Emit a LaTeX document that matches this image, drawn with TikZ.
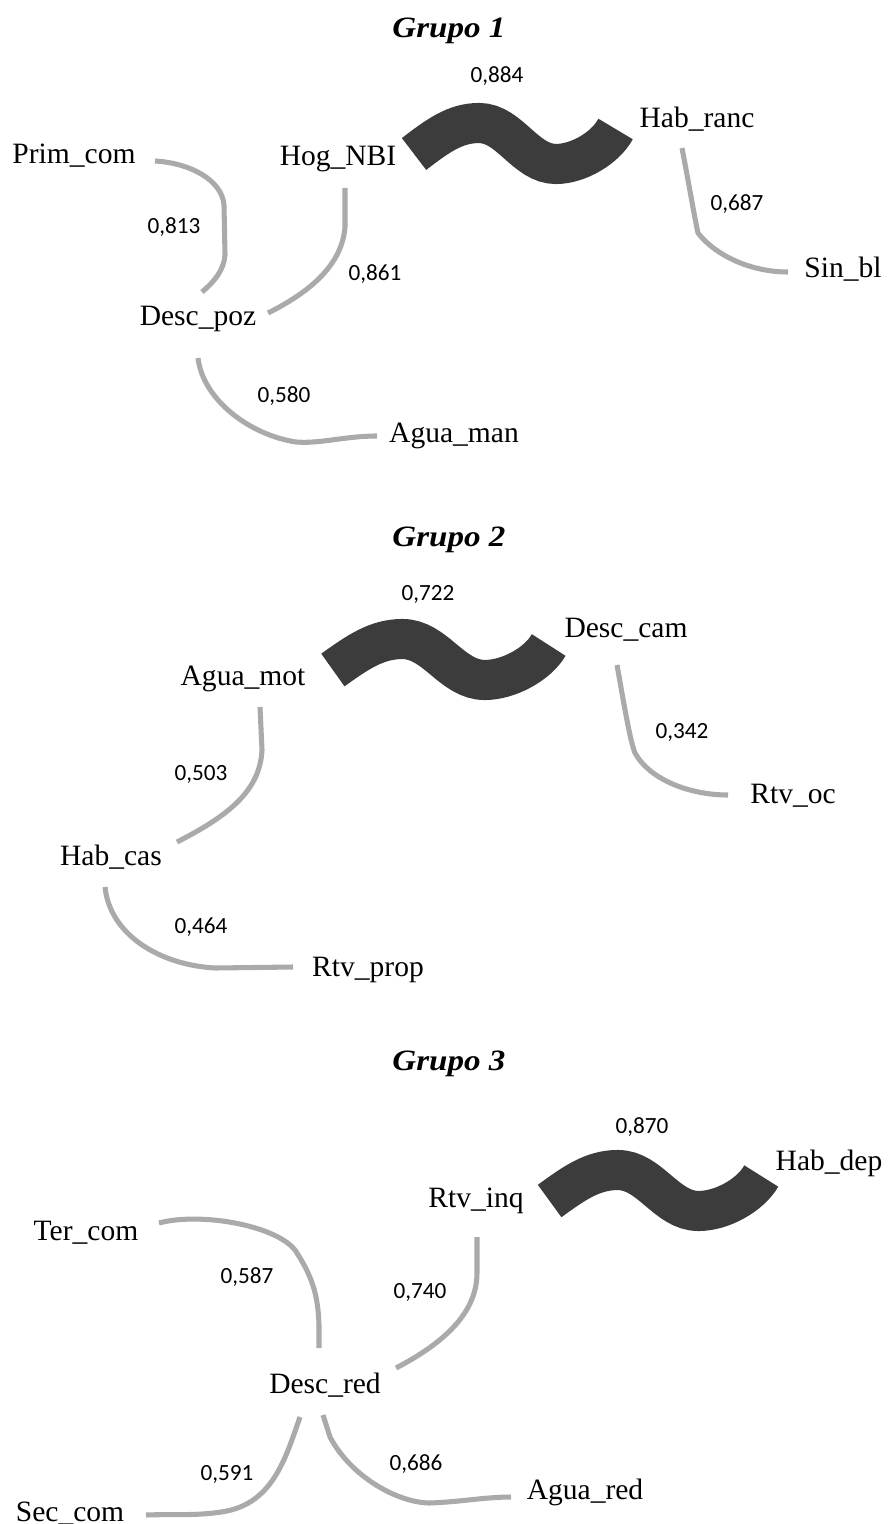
\documentclass[tikz,border=0pt]{standalone}
\usepackage{fontspec}
\setmainfont{Liberation Serif}
\newfontfamily\numfont{Carlito}
\newfontfamily\ttlfont[FakeStretch=1.12]{Liberation Serif}
\usetikzlibrary{calc}
\definecolor{edgegray}{RGB}{170,170,170}
\definecolor{wavegray}{RGB}{60,60,60}
\begin{document}
\begin{tikzpicture}[x=0.025cm,y=-0.025cm,
  lbl/.style={font=\fontsize{21}{21}\selectfont, inner sep=0pt, anchor=base},
  num/.style={font=\numfont\fontsize{16.5}{16.5}\selectfont, inner sep=0pt, anchor=base},
  ttl/.style={font=\ttlfont\bfseries\itshape\fontsize{21}{21}\selectfont, inner sep=0pt, anchor=base},
  link/.style={draw=edgegray, line width=3.6pt, line join=round},
  wave/.style={draw=wavegray, line width=28.5pt}]
\fill[white] (0,0) rectangle (889,1524);
\useasboundingbox (0,0) rectangle (889,1524);

% ---------------- Grupo 1 ----------------
\node[ttl] (t1) at (449,38) {Grupo 1};
\node[num] (n884) at (497,83) {0,884};
\node[lbl] (prim) at (74,163) {Prim\_com};
\node[lbl] (hog) at (338,165) {Hog\_NBI};
\node[lbl] (habranc) at (697,128) {Hab\_ranc};
\node[num] (n813) at (174,233) {0,813};
\node[num] (n861) at (375,280) {0,861};
\node[num] (n687) at (737,210) {0,687};
\node[lbl] (sinbl) at (843,277) {Sin\_bl};
\node[lbl] (descpoz) at (198,325) {Desc\_poz};
\node[num] (n580) at (284,402) {0,580};
\node[lbl] (aguaman) at (454,442) {Agua\_man};

\draw[link] ($(prim.base)+(81,-2)$) .. controls (190,163) and (222,180) .. (224,205)
  -- (225,255) .. controls (224,270) and (214,282) .. ($(descpoz.base)+(4,-33)$);
\draw[link] ($(hog.base)+(7,23)$) -- (345,227) .. controls (342,265) and (310,292) .. ($(descpoz.base)+(70,-12)$);
\draw[link] ($(descpoz.base)+(0,33)$) .. controls (203,400) and (250,435) .. (296,442)
  .. controls (320,444) and (345,436) .. ($(aguaman.base)+(-77,-6)$);
\draw[link] ($(habranc.base)+(-15,20)$) .. controls (690,190) and (695,220) .. (698,233)
  .. controls (715,255) and (750,272) .. ($(sinbl.base)+(-55,-5)$);
\begin{scope}[shift={(402,137)}, xscale=0.962]
  \coordinate (w1a) at (12.5,17);
  \coordinate (w1b) at (222,-8);
  \draw[wave] (w1a) .. controls (36.7,-0.8) and (55,-14) .. (80,-14)
    .. controls (112,-14) and (128,27) .. (160,27)
    .. controls (183,27) and (211.3,11.2) .. (w1b);
\end{scope}

% ---------------- Grupo 2 ----------------
\node[ttl] (t2) at (449,546) {Grupo 2};
\node[num] (n722) at (428,600) {0,722};
\node[lbl] (aguamot) at (243,685) {Agua\_mot};
\node[num] (n503) at (201,780) {0,503};
\node[lbl] (habcas) at (111,865) {Hab\_cas};
\node[num] (n464) at (201,933) {0,464};
\node[lbl] (rtvprop) at (368,976) {Rtv\_prop};
\node[lbl] (desccam) at (626,637) {Desc\_cam};
\node[num] (n342) at (682,738) {0,342};
\node[lbl] (rtvoc) at (793,803) {Rtv\_oc};

\draw[link] ($(aguamot.base)+(17,22)$) -- (262,750) .. controls (260,790) and (230,815) .. ($(habcas.base)+(66,-23)$);
\draw[link] ($(habcas.base)+(-6,22)$) .. controls (110,935) and (160,965) .. (215,968)
  -- ($(rtvprop.base)+(-75,-9)$);
\draw[link] ($(desccam.base)+(-9,28)$) .. controls (625,710) and (630,740) .. (635,753)
  .. controls (650,780) and (690,795) .. ($(rtvoc.base)+(-65,-8)$);
\begin{scope}[shift={(320,653)}, xscale=1.03]
  \coordinate (w2a) at (12.5,17);
  \coordinate (w2b) at (222,-8);
  \draw[wave] (w2a) .. controls (36.7,-0.8) and (55,-14) .. (80,-14)
    .. controls (112,-14) and (128,27) .. (160,27)
    .. controls (183,27) and (211.3,11.2) .. (w2b);
\end{scope}

% ---------------- Grupo 3 ----------------
\node[ttl] (t3) at (449,1070) {Grupo 3};
\node[num] (n870) at (642,1133) {0,870};
\node[lbl] (habdep) at (829,1170) {Hab\_dep};
\node[lbl] (rtvinq) at (476,1207) {Rtv\_inq};
\node[lbl] (tercom) at (86,1240) {Ter\_com};
\node[num] (n587) at (247,1283) {0,587};
\node[num] (n740) at (420,1298) {0,740};
\node[lbl] (descred) at (325,1393) {Desc\_red};
\node[num] (n591) at (227,1480) {0,591};
\node[num] (n686) at (416,1470) {0,686};
\node[lbl] (seccom) at (70,1521) {Sec\_com};
\node[lbl] (aguared) at (585,1499) {Agua\_red};

\draw[link] ($(tercom.base)+(73,-17)$) .. controls (200,1212) and (275,1225) .. (295,1250)
  .. controls (315,1280) and (318,1300) .. (319,1325) -- ($(descred.base)+(-6,-45)$);
\draw[link] ($(rtvinq.base)+(1,30)$) -- (477,1273) .. controls (477,1315) and (440,1345) .. ($(descred.base)+(71,-25)$);
\draw[link] ($(descred.base)+(-25,24)$) .. controls (285,1460) and (272,1505) .. (221,1512)
  .. controls (195,1516) and (170,1514) .. ($(seccom.base)+(76,-6)$);
\draw[link] ($(descred.base)+(-2,22)$) -- (330,1437) .. controls (350,1475) and (395,1502) .. (429,1503)
  .. controls (460,1502) and (485,1497) .. ($(aguared.base)+(-74,-2)$);
\begin{scope}[shift={(537,1184)}, xscale=1.01]
  \coordinate (w3a) at (12.5,17);
  \coordinate (w3b) at (222,-8);
  \draw[wave] (w3a) .. controls (36.7,-0.8) and (55,-14) .. (80,-14)
    .. controls (112,-14) and (128,27) .. (160,27)
    .. controls (183,27) and (211.3,11.2) .. (w3b);
\end{scope}
\end{tikzpicture}
\end{document}
